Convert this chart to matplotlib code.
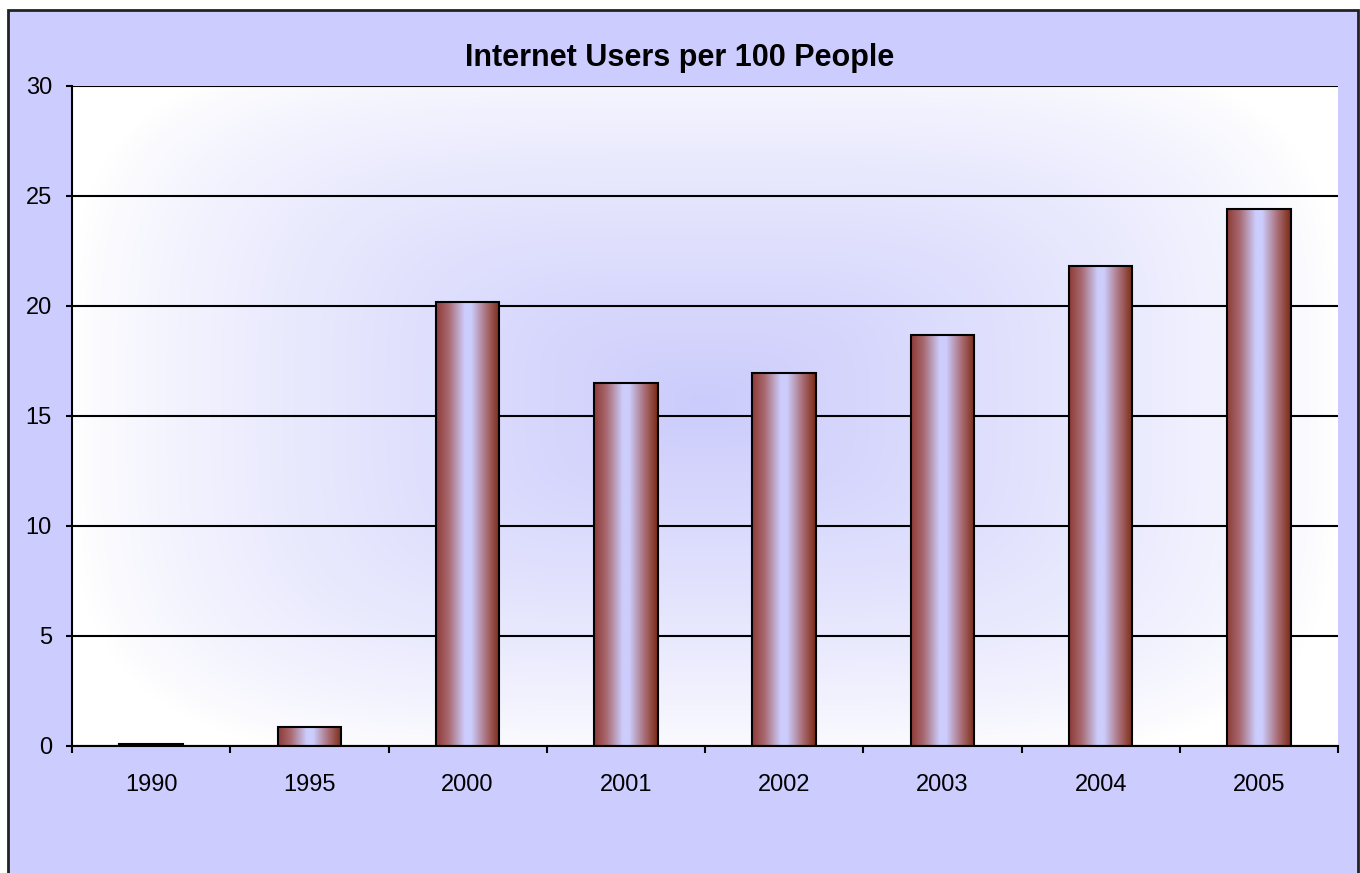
import numpy as np
import matplotlib
matplotlib.use('Agg')
import matplotlib.pyplot as plt
from matplotlib.colors import LinearSegmentedColormap
from matplotlib.patches import Rectangle

anos = ['1990', '1995', '2000', '2001', '2002', '2003', '2004', '2005']
usuarios = [0.1, 0.88, 20.2, 16.5, 16.95, 18.7, 21.8, 24.4]
yticks = [0, 5, 10, 15, 20, 25, 30]

plt.rcParams['font.family'] = ['Liberation Sans', 'DejaVu Sans']

fig = plt.figure(figsize=(13.6, 8.73), dpi=100, facecolor='white')
# moldura lavanda com borda escura
fig.patches.append(Rectangle((8/1360, -0.01), 1350/1360, 1 - 10/873 + 0.01,
                             transform=fig.transFigure, facecolor='#ccccff',
                             edgecolor='#222222', linewidth=2, zorder=-10))

ax = fig.add_axes([72/1360, 127/873, 1266/1360, 660/873])
ax.set_facecolor('none')

n = len(anos)
x = np.arange(n)
ax.set_xlim(-0.5, n - 0.5)
ax.set_ylim(0, 30)

# fundo com gradiente do centro (branco nas bordas, lavanda no centro)
gx, gy = np.meshgrid(np.linspace(0, 1, 400), np.linspace(0, 1, 300))
dx = np.abs(gx - 0.5) / 0.5
dy = np.abs(gy - 0.52) / 0.55
r = (dx ** 4 + dy ** 4) ** 0.25
f = np.clip(1 - r, 0, 1) ** 0.8
branco = np.array([1.0, 1.0, 1.0])
lav = np.array([0.80, 0.80, 0.99])
img = branco + (lav - branco) * f[..., None]
ax.imshow(img, extent=(-0.5, n - 0.5, 0, 30), aspect='auto', origin='lower',
          zorder=0, interpolation='bilinear')

ax.yaxis.grid(True, color='black', linewidth=1.5, zorder=1)
ax.set_axisbelow(True)
ax.set_yticks(yticks)

# barras com gradiente horizontal
cmap = LinearSegmentedColormap.from_list('barra', [
    (0.0, '#8e3b36'), (0.2, '#a86a72'), (0.45, '#cccdfd'),
    (0.55, '#cccdfd'), (0.8, '#a86a72'), (1.0, '#7a2a12')])
barras = ax.bar(x, usuarios, width=0.4, color='none', edgecolor='black',
                linewidth=1.5, zorder=3)
grad = np.linspace(0, 1, 256).reshape(1, -1)
for b in barras:
    x0, w, h = b.get_x(), b.get_width(), b.get_height()
    im = ax.imshow(grad, cmap=cmap, extent=(x0, x0 + w, 0, h), aspect='auto',
                   zorder=2, interpolation='bilinear')
    im.set_clip_path(b)

ax.set_xlim(-0.5, n - 0.5)
ax.set_ylim(0, 30)

for lado in ['top', 'right']:
    ax.spines[lado].set_visible(False)
for lado in ['left', 'bottom']:
    ax.spines[lado].set_color('black')
    ax.spines[lado].set_linewidth(1.5)

ax.set_xticks(np.arange(n + 1) - 0.5)
ax.set_xticklabels([])
ax.set_xticks(x, minor=True)
ax.set_xticklabels(anos, minor=True, fontsize=17)
ax.tick_params(axis='x', which='major', direction='out', length=5, width=1.5)
ax.tick_params(axis='x', which='minor', length=0, pad=20)
ax.tick_params(axis='y', direction='out', length=4.5, width=1.5, labelsize=17, pad=10)

fig.text(0.5, (873 - 58) / 873, 'Internet Users per 100 People', ha='center',
         va='center', fontsize=22, fontweight='bold')

fig.savefig('out.png', dpi=100, facecolor=fig.get_facecolor())
